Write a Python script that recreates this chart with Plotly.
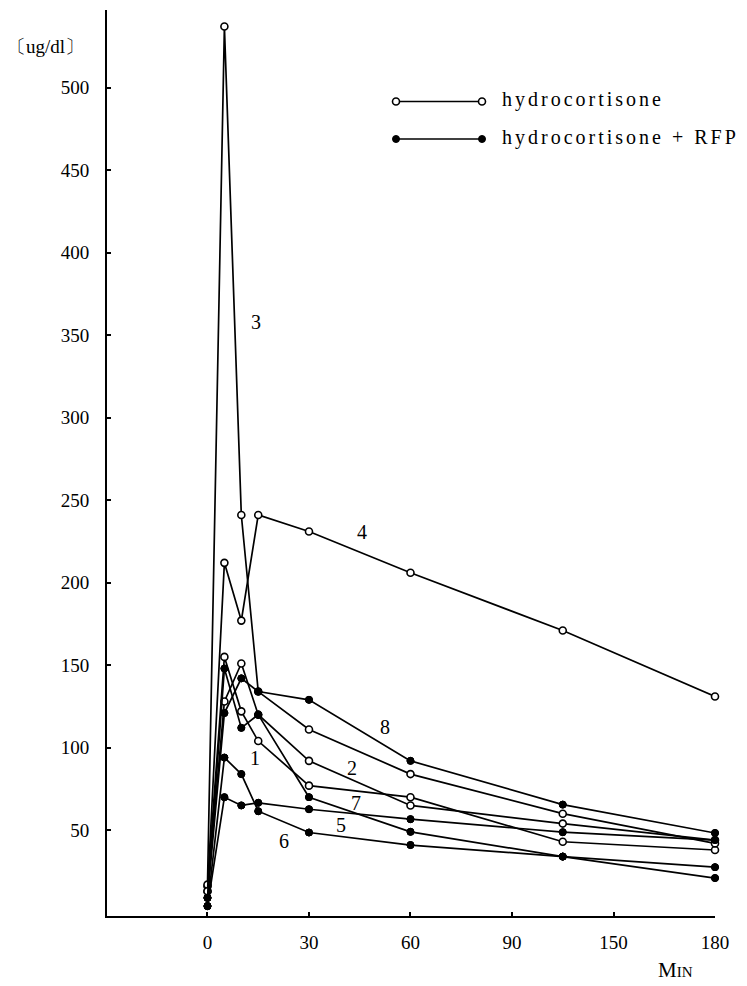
import numpy as np
import plotly.graph_objects as go

# ---- data ----
times = [0, 5, 10, 15, 30, 60, 120, 180]          # minutes
tick_minutes = [0, 30, 60, 90, 150, 180]           # x tick labels (non-linear scale)
tick_labels = ["0", "30", "60", "90", "150", "180"]
y_ticks = [50, 100, 150, 200, 250, 300, 350, 400, 450, 500]

# hydrocortisone (open circles)
hc1 = [16, 155, 122, 104, 77, 70, 43, 38]
hc2 = [13, 128, 151, 120, 92, 65, 54, 44]
hc3 = [17, 537, 241, 134, 111, 84, 60, 42]
hc4 = [13, 212, 177, 241, 231, 206, 171, 131]
# hydrocortisone + RFP (filled circles)
rfp5 = [9, 148, 112, 120, 70, 49, 34, 21]
rfp6 = [4, 94, 84, 61.5, 48.6, 41, 34, 27.6]
rfp7 = [4, 70, 65, 66.6, 62.7, 56.7, 48.8, 44]
rfp8 = [9, 121, 142, 134, 129, 92, 65.5, 48.3]

curve_names = ["1", "2", "3", "4", "5", "6", "7", "8"]
# label positions (minutes, ug/dl)
label_t = [14.0, 42.7, 14.2, 45.7, 39.4, 22.5, 43.9, 52.4]
label_v = [94, 87.5, 358, 230.5, 53, 43.4, 66.4, 112.6]

# ---- piecewise x scale: equal spacing between the labelled ticks ----
def xs(t):
    return np.interp(t, tick_minutes, list(range(len(tick_minutes))))

SERIF = "Liberation Serif, Times New Roman, serif"
# page body has an 8px margin; plot area target: x 107..715, y 10..916
OFF = 8
PL, PR, PT, PB = 107, 715, 10, 916

def px(p):
    return (p - PL) / (PR - PL)

def py(p):
    return (PB - p) / (PB - PT)

fig = go.Figure()

open_marker = dict(symbol="circle", size=7, color="white",
                   line=dict(color="black", width=1.6))
filled_marker = dict(symbol="circle", size=7, color="black",
                     line=dict(color="black", width=1))

for name, vals in zip(curve_names[:4], [hc1, hc2, hc3, hc4]):
    fig.add_trace(go.Scatter(x=xs(times), y=vals, mode="lines+markers",
                             line=dict(color="black", width=1.7),
                             marker=open_marker, name=name, showlegend=False,
                             cliponaxis=False))
for name, vals in zip(curve_names[4:], [rfp5, rfp6, rfp7, rfp8]):
    fig.add_trace(go.Scatter(x=xs(times), y=vals, mode="lines+markers",
                             line=dict(color="black", width=1.7),
                             marker=filled_marker, name=name, showlegend=False,
                             cliponaxis=False))

# redraw filled markers on top so they hide the open ones where overlapping
for vals in [rfp5, rfp6, rfp7, rfp8]:
    fig.add_trace(go.Scatter(x=xs(times), y=vals, mode="markers",
                             marker=filled_marker, showlegend=False,
                             hoverinfo="skip", cliponaxis=False))

# curve number labels
for name, t, v in zip(curve_names, label_t, label_v):
    fig.add_annotation(x=float(xs(t)), y=v, text=name, showarrow=False,
                       font=dict(family=SERIF, size=20, color="black"))

# ---- hand-drawn style legend on an overlay axis in pixel units ----
legend_y = [101.5, 139]
legend_marker = [open_marker, filled_marker]
legend_text = ["hydrocortisone", "hydrocortisone + RFP"]
for yy, mk in zip(legend_y, legend_marker):
    fig.add_trace(go.Scatter(x=[396, 482], y=[yy, yy], mode="lines+markers",
                             line=dict(color="black", width=1.7), marker=mk,
                             xaxis="x2", yaxis="y2", showlegend=False,
                             hoverinfo="skip", cliponaxis=False))
for yy, txt in zip(legend_y, legend_text):
    fig.add_annotation(x=px(500), y=py(yy - 2), xref="paper", yref="paper",
                       text="<span style='letter-spacing:3px'>%s</span>" % txt,
                       showarrow=False, xanchor="left", yanchor="middle",
                       font=dict(family=SERIF, size=20, color="black"))

# unit and axis title
fig.add_annotation(x=px(5), y=py(47), xref="paper", yref="paper",
                   text="〔ug/dl〕", showarrow=False, xanchor="left",
                   yanchor="middle",
                   font=dict(family=SERIF, size=19, color="black"))
fig.add_annotation(x=px(675), y=py(970), xref="paper", yref="paper",
                   text="M<span style='font-size:15px'>IN</span>",
                   showarrow=False, xanchor="center", yanchor="middle",
                   font=dict(family=SERIF, size=21, color="black"))

fig.update_layout(
    width=747, height=986,
    margin=dict(l=PL - OFF, r=747 - PR + OFF, t=PT - OFF, b=986 - PB + OFF),
    plot_bgcolor="white", paper_bgcolor="white",
    font=dict(family=SERIF, color="black"),
    xaxis=dict(range=[-0.99, 5.0], tickvals=list(range(len(tick_minutes))),
               ticktext=tick_labels, ticks="inside", ticklen=4, tickwidth=1.5,
               tickcolor="black", showline=True, linecolor="black", linewidth=2,
               showgrid=False, zeroline=False, ticklabelstandoff=8,
               tickfont=dict(family=SERIF, size=19, color="black")),
    yaxis=dict(range=[-2, 547], tickvals=y_ticks, ticks="inside", ticklen=4,
               tickwidth=1.5, tickcolor="black", showline=True, linecolor="black",
               linewidth=2, showgrid=False, zeroline=False, ticklabelstandoff=12,
               tickfont=dict(family=SERIF, size=19, color="black")),
    xaxis2=dict(range=[PL, PR], overlaying="x", visible=False, fixedrange=True),
    yaxis2=dict(range=[PB, PT], overlaying="y", visible=False, fixedrange=True),
)

fig.write_html("out.html")
